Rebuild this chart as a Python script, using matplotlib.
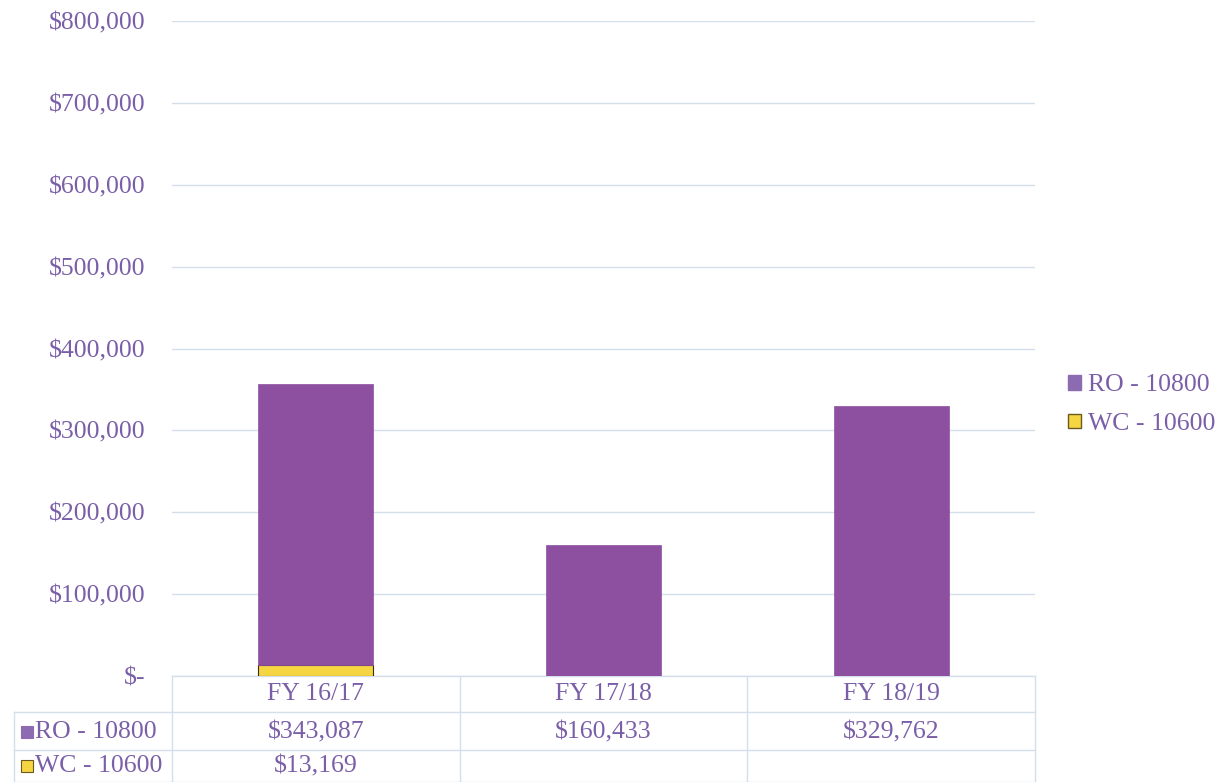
import matplotlib
matplotlib.use("Agg")
import matplotlib.pyplot as plt
import matplotlib.transforms as mtransforms
from matplotlib.patches import Patch
import numpy as np

# ---- data ----
categories = ["FY 16/17", "FY 17/18", "FY 18/19"]
series_names = ["RO - 10800", "WC - 10600"]
ro_values = [343087, 160433, 329762]
wc_values = [13169, None, None]
yticks = [0, 100000, 200000, 300000, 400000, 500000, 600000, 700000, 800000]

# ---- style ----
plt.rcParams['font.family'] = ['Liberation Serif', 'DejaVu Serif']
TEXT = '#7A5FA8'
RO_COL = '#8D4F9F'
RO_LEG = '#8C6BB1'
WC_COL = '#F6D542'
GRID = '#d3dfeb'
FS = 18.5

fig = plt.figure(figsize=(12.18, 7.82), dpi=100)
ax = fig.add_axes([172/1218, 1-676/782, (1035-172)/1218, (676-21)/782])

x = np.arange(len(categories))
wc_num = np.array([v if v is not None else 0 for v in wc_values], dtype=float)
ro_num = np.array(ro_values, dtype=float)

ax.bar(x, wc_num, width=0.4, color=WC_COL, edgecolor='#3a2a10', linewidth=0.8, zorder=3)
ax.bar(x, ro_num, width=0.4, bottom=wc_num, color=RO_COL, edgecolor=RO_COL, linewidth=0.5, zorder=3)

ax.set_xlim(-0.5, len(categories) - 0.5)
ax.set_ylim(0, 800000)
ax.set_yticks(yticks)
ax.set_yticklabels(["$-" if v == 0 else f"${v:,.0f}" for v in yticks])
ax.tick_params(axis='y', length=0, pad=19, labelsize=FS, labelcolor=TEXT)
ax.tick_params(axis='x', length=0, labelbottom=False)
for s in ax.spines.values():
    s.set_visible(False)
ax.yaxis.grid(True, color=GRID, linewidth=1.0, zorder=0)
ax.set_axisbelow(True)

# ---- data table below the axis ----
blend = mtransforms.blended_transform_factory(ax.transData, ax.transAxes)
axfrac = ax.transAxes
y_head, y_ro, y_wc = -0.027, -0.086, -0.138
y_l0, y_l1, y_l2, y_l3 = 0.0, -0.055, -0.113, -0.162
x_left = -0.183
line_kw = dict(color=GRID, linewidth=1.0, clip_on=False, zorder=1)

# horizontal lines
ax.plot([0, 1], [y_l0, y_l0], transform=axfrac, **line_kw)
for yl in (y_l1, y_l2, y_l3):
    ax.plot([x_left, 1], [yl, yl], transform=axfrac, **line_kw)
# vertical lines
ax.plot([x_left, x_left], [y_l1, y_l3], transform=axfrac, **line_kw)
for xb in np.arange(len(categories) + 1) - 0.5:
    ax.plot([xb, xb], [y_l0, y_l3], transform=blend, **line_kw)

for i, cat in enumerate(categories):
    ax.text(i, y_head, cat, transform=blend, ha='center', va='center', fontsize=FS, color=TEXT)
    ax.text(i, y_ro, f"${ro_values[i]:,.0f}", transform=blend, ha='center', va='center',
            fontsize=FS, color=TEXT)
    if wc_values[i] is not None:
        ax.text(i, y_wc, f"${wc_values[i]:,.0f}", transform=blend, ha='center', va='center',
                fontsize=FS, color=TEXT)

# row labels with colour keys
for yr, name, col, ec in ((y_ro, series_names[0], RO_LEG, RO_LEG),
                          (y_wc, series_names[1], WC_COL, '#6a5a20')):
    ax.plot([-0.1675], [yr], marker='s', markersize=8.5, color=col, markeredgecolor=ec,
            markeredgewidth=0.8, transform=axfrac, clip_on=False, zorder=4)
    ax.text(-0.1585, yr, name, transform=axfrac, ha='left', va='center', fontsize=FS, color=TEXT)

# ---- legend ----
handles = [Patch(facecolor=RO_LEG, edgecolor=RO_LEG, label=series_names[0]),
           Patch(facecolor=WC_COL, edgecolor='#6a5a20', label=series_names[1])]
leg = ax.legend(handles=handles, loc='center left', bbox_to_anchor=(1.038, 0.414),
                frameon=False, fontsize=FS, handlelength=0.5, handleheight=0.5,
                handletextpad=0.3, labelspacing=0.65, borderpad=0, borderaxespad=0)
for t in leg.get_texts():
    t.set_color(TEXT)

fig.savefig("out.png", dpi=100, facecolor='white')
